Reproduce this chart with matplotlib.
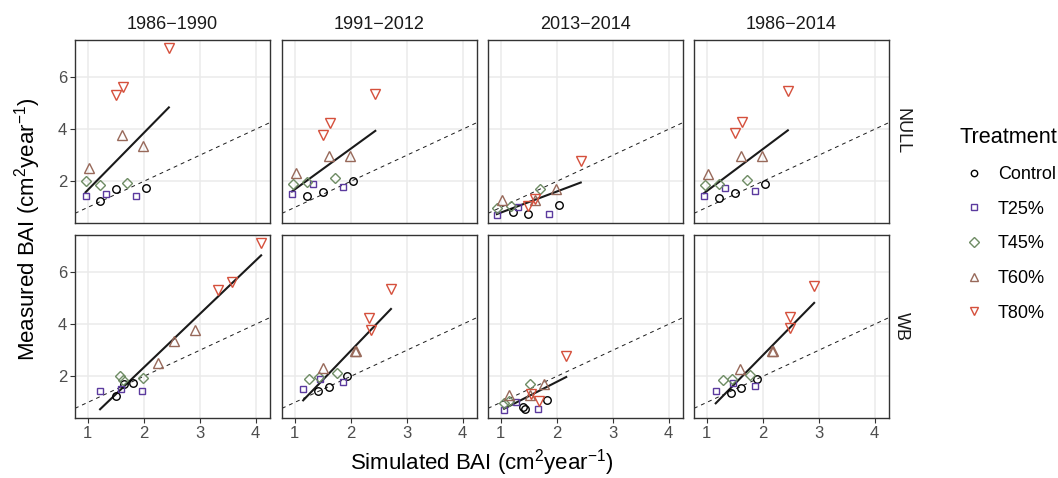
import matplotlib.pyplot as plt
from matplotlib.lines import Line2D
import numpy as np

plt.rcParams['font.family'] = ['Liberation Sans', 'DejaVu Sans']
plt.rcParams['mathtext.fontset'] = 'custom'
plt.rcParams['mathtext.rm'] = 'Liberation Sans'
plt.rcParams['mathtext.it'] = 'Liberation Sans:italic'

periods = ['1986\u22121990', '1991\u22122012', '2013\u22122014', '1986\u22122014']
models = ['NULL', 'WB']
treatments = ['Control', 'T25%', 'T45%', 'T60%', 'T80%']
colors = ['#000000', '#5B3A9E', '#6E8C64', '#98695A', '#D5503C']
markers = ['o', 's', 'D', '^', 'v']

# 3 plots per treatment, order: Control, T25, T45, T60, T80
measured_8690 = [1.25, 1.71, 1.75, 1.43, 1.53, 1.43, 2.03, 1.85, 1.94,
                 2.50, 3.77, 3.35, 5.32, 5.62, 7.11]
measured_9112 = [1.43, 1.61, 2.03, 1.53, 1.89, 1.77, 1.91, 1.96, 2.13,
                 2.32, 2.97, 2.97, 3.78, 4.26, 5.35]
measured_1314 = [0.82, 0.75, 1.08, 0.72, 1.00, 0.73, 0.98, 1.07, 1.72,
                 1.28, 1.27, 1.72, 1.07, 1.31, 2.78]
measured_8614 = [1.36, 1.56, 1.91, 1.45, 1.76, 1.63, 1.87, 1.91, 2.07,
                 2.27, 2.99, 2.96, 3.84, 4.28, 5.47]

null_8690 = [1.22, 1.51, 2.05, 0.96, 1.32, 1.87, 0.96, 1.22, 1.71,
             1.02, 1.62, 1.99, 1.50, 1.63, 2.45]
null_9112 = [1.22, 1.51, 2.04, 0.95, 1.33, 1.87, 0.96, 1.22, 1.72,
             1.03, 1.62, 1.98, 1.51, 1.63, 2.44]
null_1314 = [1.21, 1.49, 2.04, 0.93, 1.31, 1.86, 0.93, 1.19, 1.71,
             1.02, 1.61, 1.98, 1.49, 1.61, 2.43]
null_8614 = [1.22, 1.50, 2.05, 0.95, 1.32, 1.87, 0.96, 1.22, 1.72,
             1.03, 1.62, 1.99, 1.51, 1.63, 2.45]

wb_8690 = [1.50, 1.65, 1.80, 1.22, 1.60, 1.97, 1.58, 1.63, 1.99,
           2.26, 2.92, 2.55, 3.32, 3.58, 4.10]
wb_9112 = [1.42, 1.62, 1.93, 1.15, 1.45, 1.86, 1.25, 1.44, 1.75,
           1.50, 2.08, 2.10, 2.37, 2.33, 2.72]
wb_1314 = [1.39, 1.44, 1.82, 1.06, 1.27, 1.67, 1.06, 1.15, 1.52,
           1.15, 1.53, 1.78, 1.68, 1.54, 2.17]
wb_8614 = [1.44, 1.62, 1.90, 1.16, 1.47, 1.87, 1.29, 1.45, 1.78,
           1.60, 2.16, 2.19, 2.49, 2.49, 2.92]

measured = [measured_8690, measured_9112, measured_1314, measured_8614]
simulated = [[null_8690, null_9112, null_1314, null_8614],
             [wb_8690, wb_9112, wb_1314, wb_8614]]

W, H = 1058, 478
fig = plt.figure(figsize=(W / 100, H / 100), dpi=100)

col_left = [75, 282, 488, 694]
row_top = [40, 235]
pw, ph = 195, 183


def msize(m):
    if m in 'oD':
        return 5.4
    if m == 's':
        return 5.0
    return 7.2


all_x = np.concatenate([np.array(s) for row in simulated for s in row])
all_y = np.concatenate([np.array(m) for m in measured])
xpad = 0.05 * (all_x.max() - all_x.min())
ypad = 0.05 * (all_y.max() - all_y.min())
xlim = (all_x.min() - xpad, all_x.max() + xpad)
ylim = (all_y.min() - ypad, all_y.max() + ypad)

for r, model in enumerate(models):
    for c, period in enumerate(periods):
        ax = fig.add_axes([col_left[c] / W, 1 - (row_top[r] + ph) / H, pw / W, ph / H])
        x = np.array(simulated[r][c])
        y = np.array(measured[c])
        ax.axline((0, 0), slope=1, color='#1a1a1a', lw=0.7, ls=(0, (4, 4)), zorder=2)
        k, b = np.polyfit(x, y, 1)
        xs = np.array([x.min(), x.max()])
        ax.plot(xs, k * xs + b, color='#1a1a1a', lw=1.5, zorder=3)
        for i, t in enumerate(treatments):
            ax.plot(x[3 * i:3 * i + 3], y[3 * i:3 * i + 3], ls='none', marker=markers[i],
                    mfc='none', mec=colors[i], mew=1.0, ms=msize(markers[i]), zorder=4)
        ax.set_xlim(xlim)
        ax.set_ylim(ylim)
        ax.set_xticks([1, 2, 3, 4])
        ax.set_yticks([2, 4, 6])
        ax.grid(True, color='#EBEBEB', lw=1.1)
        ax.set_axisbelow(True)
        for sp in ax.spines.values():
            sp.set_color('#333333')
            sp.set_linewidth(1.0)
        ax.tick_params(colors='#333333', labelcolor='#4D4D4D', labelsize=12,
                       length=3.5, width=0.8, pad=2)
        if r == 0:
            ax.tick_params(axis='x', length=0, labelbottom=False)
            ax.set_title(period, fontsize=13, color='#1A1A1A', pad=8)
        if c > 0:
            ax.tick_params(axis='y', length=0, labelleft=False)
        if c == 3:
            ax.text(1.065, 0.5, model, transform=ax.transAxes, rotation=-90,
                    ha='center', va='center', fontsize=13, color='#1A1A1A')

fig.text(28 / W, 1 - 229 / H, 'Measured BAI (cm$^2$year$^{-1}$)', rotation=90,
         ha='center', va='center', fontsize=16)
fig.text(482 / W, 1 - 463 / H, 'Simulated BAI (cm$^2$year$^{-1}$)',
         ha='center', va='center', fontsize=16)

handles = [Line2D([], [], ls='none', marker=markers[i], mfc='none', mec=colors[i],
                  mew=1.0, ms=msize(markers[i]) * 0.85)
           for i in range(len(treatments))]
leg = fig.legend(handles, treatments, title='Treatment', loc='upper left',
                 bbox_to_anchor=(943 / W, 1 - 111 / H), frameon=False,
                 fontsize=13, title_fontsize=15.6, labelspacing=0.98,
                 handletextpad=0.55, handlelength=1.6)
leg._legend_box.align = 'left'

fig.savefig('out.png', dpi=100)
